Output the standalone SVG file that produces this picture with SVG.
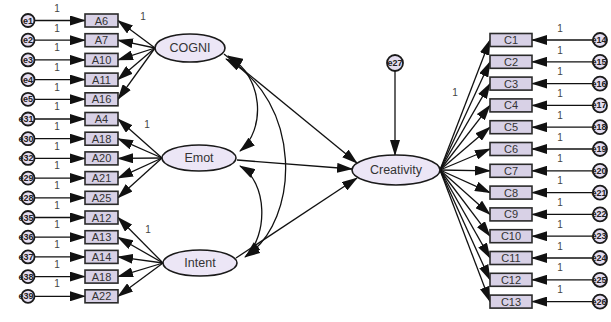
<svg xmlns="http://www.w3.org/2000/svg" width="611" height="322" viewBox="0 0 611 322">
<style>
  .box{fill:#d8d1e6;stroke:#2a2a2a;stroke-width:1.6}
  .lat{fill:#ece6f6;stroke:#1a1a1a;stroke-width:1.6}
  .err{fill:#e4ddf0;stroke:#1a1a1a;stroke-width:1.8}
  .t{font-family:"Liberation Sans",Arial,sans-serif;fill:#333;text-anchor:middle}
  .bt{font-size:11px;dominant-baseline:central}
  .lt{font-size:12.5px;dominant-baseline:central}
  .et{font-size:9px;dominant-baseline:central;font-weight:bold;fill:#222}
  .one{font-size:10px;fill:#444}
  .c line,.c path{stroke:#111;stroke-width:1.3;fill:none}
  .a{marker-end:url(#ah)}
  .d{marker-start:url(#ah);marker-end:url(#ah)}
</style>
<defs>
  <marker id="ah" markerUnits="userSpaceOnUse" markerWidth="16" markerHeight="10" refX="15" refY="5" orient="auto-start-reverse">
    <path d="M0,0 L16,5 L0,10 z" fill="#111"/>
  </marker>
</defs>
<rect width="611" height="322" fill="#fff"/>

<!-- connectors -->
<g class="c">
  <!-- errors to left indicators -->
  <line class="a" x1="35" y1="20.5" x2="85" y2="20.5"/>
  <line class="a" x1="35" y1="40.2" x2="85" y2="40.2"/>
  <line class="a" x1="35" y1="59.9" x2="85" y2="59.9"/>
  <line class="a" x1="35" y1="79.6" x2="85" y2="79.6"/>
  <line class="a" x1="35" y1="99.3" x2="85" y2="99.3"/>
  <line class="a" x1="35" y1="119" x2="85" y2="119"/>
  <line class="a" x1="35" y1="138.7" x2="85" y2="138.7"/>
  <line class="a" x1="35" y1="158.4" x2="85" y2="158.4"/>
  <line class="a" x1="35" y1="178.1" x2="85" y2="178.1"/>
  <line class="a" x1="35" y1="197.8" x2="85" y2="197.8"/>
  <line class="a" x1="35" y1="217.5" x2="85" y2="217.5"/>
  <line class="a" x1="35" y1="237.2" x2="85" y2="237.2"/>
  <line class="a" x1="35" y1="256.9" x2="85" y2="256.9"/>
  <line class="a" x1="35" y1="276.6" x2="85" y2="276.6"/>
  <line class="a" x1="35" y1="296.3" x2="85" y2="296.3"/>
  <!-- COGNI loadings -->
  <line class="a" x1="155" y1="48" x2="118" y2="20.5"/>
  <line class="a" x1="155" y1="48" x2="118" y2="40.2"/>
  <line class="a" x1="155" y1="48" x2="118" y2="59.9"/>
  <line class="a" x1="155" y1="48" x2="118" y2="79.6"/>
  <line class="a" x1="155" y1="48" x2="118" y2="99.3"/>
  <!-- Emot loadings -->
  <line class="a" x1="162" y1="158" x2="118" y2="119"/>
  <line class="a" x1="162" y1="158" x2="118" y2="138.7"/>
  <line class="a" x1="162" y1="158" x2="118" y2="158.4"/>
  <line class="a" x1="162" y1="158" x2="118" y2="178.1"/>
  <line class="a" x1="162" y1="158" x2="118" y2="197.8"/>
  <!-- Intent loadings -->
  <line class="a" x1="163" y1="263" x2="118" y2="217.5"/>
  <line class="a" x1="163" y1="263" x2="118" y2="237.2"/>
  <line class="a" x1="163" y1="263" x2="118" y2="256.9"/>
  <line class="a" x1="163" y1="263" x2="118" y2="276.6"/>
  <line class="a" x1="163" y1="263" x2="118" y2="296.3"/>
  <!-- covariances -->
  <path class="d" d="M228,56 C264,76 266,130 240,151"/>
  <path class="d" d="M226,59 C302,100 302,220 245,257"/>
  <path class="d" d="M240,166 C268,182 268,236 246,256"/>
  <!-- structural paths -->
  <line class="a" x1="224" y1="54" x2="357" y2="163"/>
  <line class="a" x1="237" y1="160" x2="352" y2="169"/>
  <line class="a" x1="236" y1="258" x2="357" y2="178"/>
  <!-- residual of Creativity -->
  <line class="a" x1="395" y1="71" x2="395" y2="155"/>
  <!-- Creativity loadings -->
  <line class="a" x1="440" y1="170" x2="490" y2="40"/>
  <line class="a" x1="440" y1="170" x2="490" y2="61.8"/>
  <line class="a" x1="440" y1="170" x2="490" y2="83.6"/>
  <line class="a" x1="440" y1="170" x2="490" y2="105.4"/>
  <line class="a" x1="440" y1="170" x2="490" y2="127.2"/>
  <line class="a" x1="440" y1="170" x2="490" y2="149"/>
  <line class="a" x1="440" y1="170" x2="490" y2="170.8"/>
  <line class="a" x1="440" y1="170" x2="490" y2="192.6"/>
  <line class="a" x1="440" y1="170" x2="490" y2="214.4"/>
  <line class="a" x1="440" y1="170" x2="490" y2="236.2"/>
  <line class="a" x1="440" y1="170" x2="490" y2="258"/>
  <line class="a" x1="440" y1="170" x2="490" y2="279.8"/>
  <line class="a" x1="440" y1="170" x2="490" y2="301.6"/>
  <!-- errors to right indicators -->
  <line class="a" x1="593" y1="40" x2="532" y2="40"/>
  <line class="a" x1="593" y1="61.8" x2="532" y2="61.8"/>
  <line class="a" x1="593" y1="83.6" x2="532" y2="83.6"/>
  <line class="a" x1="593" y1="105.4" x2="532" y2="105.4"/>
  <line class="a" x1="593" y1="127.2" x2="532" y2="127.2"/>
  <line class="a" x1="593" y1="149" x2="532" y2="149"/>
  <line class="a" x1="593" y1="170.8" x2="532" y2="170.8"/>
  <line class="a" x1="593" y1="192.6" x2="532" y2="192.6"/>
  <line class="a" x1="593" y1="214.4" x2="532" y2="214.4"/>
  <line class="a" x1="593" y1="236.2" x2="532" y2="236.2"/>
  <line class="a" x1="593" y1="258" x2="532" y2="258"/>
  <line class="a" x1="593" y1="279.8" x2="532" y2="279.8"/>
  <line class="a" x1="593" y1="301.6" x2="532" y2="301.6"/>
</g>

<!-- fixed-path labels -->
<g class="t one">
  <text x="57" y="12">1</text><text x="57" y="32">1</text><text x="57" y="51">1</text>
  <text x="57" y="71">1</text><text x="57" y="91">1</text><text x="57" y="110">1</text>
  <text x="57" y="130">1</text><text x="57" y="150">1</text><text x="57" y="169">1</text>
  <text x="57" y="189">1</text><text x="57" y="209">1</text><text x="57" y="228">1</text>
  <text x="57" y="248">1</text><text x="57" y="268">1</text><text x="57" y="287">1</text>
  <text x="143" y="20">1</text><text x="147" y="128">1</text><text x="148" y="233">1</text>
  <text x="455" y="96">1</text>
  <text x="560" y="32">1</text><text x="560" y="54">1</text><text x="560" y="75">1</text>
  <text x="560" y="97">1</text><text x="560" y="119">1</text><text x="560" y="141">1</text>
  <text x="560" y="162">1</text><text x="560" y="184">1</text><text x="560" y="206">1</text>
  <text x="560" y="228">1</text><text x="560" y="250">1</text><text x="560" y="271">1</text>
  <text x="560" y="293">1</text>
</g>

<!-- left error terms -->
<g id="errors-left">
  <g id="e1"><circle class="err" cx="28" cy="20.5" r="6.5"/><text class="t et" x="28" y="20.5">e1</text></g>
  <g id="e2"><circle class="err" cx="28" cy="40.2" r="6.5"/><text class="t et" x="28" y="40.2">e2</text></g>
  <g id="e3"><circle class="err" cx="28" cy="59.9" r="6.5"/><text class="t et" x="28" y="59.9">e3</text></g>
  <g id="e4"><circle class="err" cx="28" cy="79.6" r="6.5"/><text class="t et" x="28" y="79.6">e4</text></g>
  <g id="e5"><circle class="err" cx="28" cy="99.3" r="6.5"/><text class="t et" x="28" y="99.3">e5</text></g>
  <g id="e31"><circle class="err" cx="28" cy="119" r="6.5"/><text class="t et" x="26" y="119">e31</text></g>
  <g id="e30"><circle class="err" cx="28" cy="138.7" r="6.5"/><text class="t et" x="26" y="138.7">e30</text></g>
  <g id="e32"><circle class="err" cx="28" cy="158.4" r="6.5"/><text class="t et" x="26" y="158.4">e32</text></g>
  <g id="e29"><circle class="err" cx="28" cy="178.1" r="6.5"/><text class="t et" x="26" y="178.1">e29</text></g>
  <g id="e28"><circle class="err" cx="28" cy="197.8" r="6.5"/><text class="t et" x="26" y="197.8">e28</text></g>
  <g id="e35"><circle class="err" cx="28" cy="217.5" r="6.5"/><text class="t et" x="26" y="217.5">e35</text></g>
  <g id="e36"><circle class="err" cx="28" cy="237.2" r="6.5"/><text class="t et" x="26" y="237.2">e36</text></g>
  <g id="e37"><circle class="err" cx="28" cy="256.9" r="6.5"/><text class="t et" x="26" y="256.9">e37</text></g>
  <g id="e38"><circle class="err" cx="28" cy="276.6" r="6.5"/><text class="t et" x="26" y="276.6">e38</text></g>
  <g id="e39"><circle class="err" cx="28" cy="296.3" r="6.5"/><text class="t et" x="26" y="296.3">e39</text></g>
</g>

<!-- left indicators -->
<g id="A6"><rect class="box" x="85" y="14" width="33" height="13"/><text class="t bt" x="101.5" y="20.5">A6</text></g>
<g id="A7"><rect class="box" x="85" y="33.7" width="33" height="13"/><text class="t bt" x="101.5" y="40.2">A7</text></g>
<g id="A10"><rect class="box" x="85" y="53.4" width="33" height="13"/><text class="t bt" x="101.5" y="59.9">A10</text></g>
<g id="A11"><rect class="box" x="85" y="73.1" width="33" height="13"/><text class="t bt" x="101.5" y="79.6">A11</text></g>
<g id="A16"><rect class="box" x="85" y="92.8" width="33" height="13"/><text class="t bt" x="101.5" y="99.3">A16</text></g>
<g id="A4"><rect class="box" x="85" y="112.5" width="33" height="13"/><text class="t bt" x="101.5" y="119">A4</text></g>
<g id="A18a"><rect class="box" x="85" y="132.2" width="33" height="13"/><text class="t bt" x="101.5" y="138.7">A18</text></g>
<g id="A20"><rect class="box" x="85" y="151.9" width="33" height="13"/><text class="t bt" x="101.5" y="158.4">A20</text></g>
<g id="A21"><rect class="box" x="85" y="171.6" width="33" height="13"/><text class="t bt" x="101.5" y="178.1">A21</text></g>
<g id="A25"><rect class="box" x="85" y="191.3" width="33" height="13"/><text class="t bt" x="101.5" y="197.8">A25</text></g>
<g id="A12"><rect class="box" x="85" y="211" width="33" height="13"/><text class="t bt" x="101.5" y="217.5">A12</text></g>
<g id="A13"><rect class="box" x="85" y="230.7" width="33" height="13"/><text class="t bt" x="101.5" y="237.2">A13</text></g>
<g id="A14"><rect class="box" x="85" y="250.4" width="33" height="13"/><text class="t bt" x="101.5" y="256.9">A14</text></g>
<g id="A18b"><rect class="box" x="85" y="270.1" width="33" height="13"/><text class="t bt" x="101.5" y="276.6">A18</text></g>
<g id="A22"><rect class="box" x="85" y="289.8" width="33" height="13"/><text class="t bt" x="101.5" y="296.3">A22</text></g>

<!-- latent factors -->
<g id="COGNI"><ellipse class="lat" cx="190" cy="48" rx="35" ry="14"/><text class="t lt" x="190" y="48">COGNI</text></g>
<g id="Emot"><ellipse class="lat" cx="199" cy="158" rx="37" ry="13"/><text class="t lt" x="199" y="158">Emot</text></g>
<g id="Intent"><ellipse class="lat" cx="200" cy="263" rx="37" ry="13"/><text class="t lt" x="200" y="263">Intent</text></g>
<g id="Creativity"><ellipse class="lat" cx="396" cy="170" rx="44" ry="15"/><text class="t lt" x="396" y="170">Creativity</text></g>
<g id="e27"><circle class="err" cx="395" cy="63" r="8"/><text class="t et" x="395" y="63">e27</text></g>

<!-- right indicators -->
<g id="C1"><rect class="box" x="490" y="33.5" width="42" height="13"/><text class="t bt" x="511" y="40">C1</text></g>
<g id="C2"><rect class="box" x="490" y="55.3" width="42" height="13"/><text class="t bt" x="511" y="61.8">C2</text></g>
<g id="C3"><rect class="box" x="490" y="77.1" width="42" height="13"/><text class="t bt" x="511" y="83.6">C3</text></g>
<g id="C4"><rect class="box" x="490" y="98.9" width="42" height="13"/><text class="t bt" x="511" y="105.4">C4</text></g>
<g id="C5"><rect class="box" x="490" y="120.7" width="42" height="13"/><text class="t bt" x="511" y="127.2">C5</text></g>
<g id="C6"><rect class="box" x="490" y="142.5" width="42" height="13"/><text class="t bt" x="511" y="149">C6</text></g>
<g id="C7"><rect class="box" x="490" y="164.3" width="42" height="13"/><text class="t bt" x="511" y="170.8">C7</text></g>
<g id="C8"><rect class="box" x="490" y="186.1" width="42" height="13"/><text class="t bt" x="511" y="192.6">C8</text></g>
<g id="C9"><rect class="box" x="490" y="207.9" width="42" height="13"/><text class="t bt" x="511" y="214.4">C9</text></g>
<g id="C10"><rect class="box" x="490" y="229.7" width="42" height="13"/><text class="t bt" x="511" y="236.2">C10</text></g>
<g id="C11"><rect class="box" x="490" y="251.5" width="42" height="13"/><text class="t bt" x="511" y="258">C11</text></g>
<g id="C12"><rect class="box" x="490" y="273.3" width="42" height="13"/><text class="t bt" x="511" y="279.8">C12</text></g>
<g id="C13"><rect class="box" x="490" y="295.1" width="42" height="13"/><text class="t bt" x="511" y="301.6">C13</text></g>

<!-- right error terms -->
<g id="errors-right">
  <g id="e14"><circle class="err" cx="600" cy="40" r="7"/><text class="t et" x="599" y="40">e14</text></g>
  <g id="e15"><circle class="err" cx="600" cy="61.8" r="7"/><text class="t et" x="599" y="61.8">e15</text></g>
  <g id="e16"><circle class="err" cx="600" cy="83.6" r="7"/><text class="t et" x="599" y="83.6">e16</text></g>
  <g id="e17"><circle class="err" cx="600" cy="105.4" r="7"/><text class="t et" x="599" y="105.4">e17</text></g>
  <g id="e18"><circle class="err" cx="600" cy="127.2" r="7"/><text class="t et" x="599" y="127.2">e18</text></g>
  <g id="e19"><circle class="err" cx="600" cy="149" r="7"/><text class="t et" x="599" y="149">e19</text></g>
  <g id="e20"><circle class="err" cx="600" cy="170.8" r="7"/><text class="t et" x="599" y="170.8">e20</text></g>
  <g id="e21"><circle class="err" cx="600" cy="192.6" r="7"/><text class="t et" x="599" y="192.6">e21</text></g>
  <g id="e22"><circle class="err" cx="600" cy="214.4" r="7"/><text class="t et" x="599" y="214.4">e22</text></g>
  <g id="e23"><circle class="err" cx="600" cy="236.2" r="7"/><text class="t et" x="599" y="236.2">e23</text></g>
  <g id="e24"><circle class="err" cx="600" cy="258" r="7"/><text class="t et" x="599" y="258">e24</text></g>
  <g id="e25"><circle class="err" cx="600" cy="279.8" r="7"/><text class="t et" x="599" y="279.8">e25</text></g>
  <g id="e26"><circle class="err" cx="600" cy="301.6" r="7"/><text class="t et" x="599" y="301.6">e26</text></g>
</g>
</svg>
